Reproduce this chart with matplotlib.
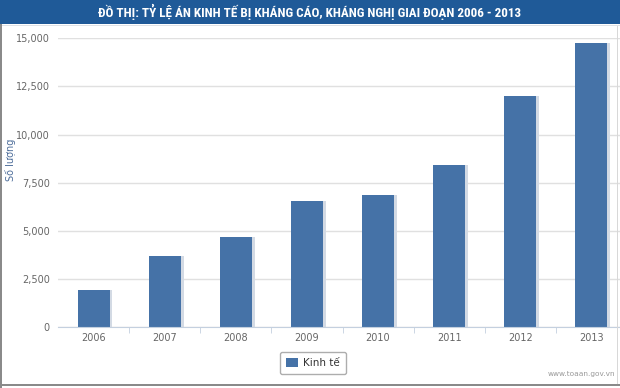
import matplotlib
matplotlib.use("Agg")
import matplotlib.pyplot as plt
from matplotlib.patches import Rectangle
from matplotlib.ticker import FuncFormatter, FixedLocator
from matplotlib import font_manager as fm

years = ["2006", "2007", "2008", "2009", "2010", "2011", "2012", "2013"]
values = [1900, 3700, 4700, 6550, 6850, 8400, 12000, 14750]
yticks = [0, 2500, 5000, 7500, 10000, 12500, 15000]
title = "ĐỒ THỊ: TỶ LỆ ÁN KINH TẾ BỊ KHÁNG CÁO, KHÁNG NGHỊ GIAI ĐOẠN 2006 - 2013"
series_name = "Kinh tế"
ylabel = "Số lượng"
credit = "www.toaan.gov.vn"

W, H = 620, 388


def pick_title_font():
    def wnum(w):
        if isinstance(w, int):
            return w
        return {"bold": 700, "semibold": 600, "demibold": 600, "heavy": 800,
                "extra bold": 800, "black": 900}.get(str(w).lower(), 400)
    cands = []
    for f in fm.fontManager.ttflist:
        st = str(f.stretch).lower()
        if ("condensed" in st or "narrow" in f.name.lower() or "condensed" in f.name.lower()) \
                and 600 <= wnum(f.weight) <= 800 and "mono" not in f.name.lower() \
                and f.style == "normal" and "extra" not in st and "ultra" not in st:
            cands.append(f)
    pref = ["Roboto", "Noto Sans", "Open Sans", "Liberation", "DejaVu"]
    for p in pref:
        for f in cands:
            if f.name.startswith(p) and "CJK" not in f.name and "Display" not in f.name:
                return fm.FontProperties(fname=f.fname)
    if cands:
        return fm.FontProperties(fname=cands[0].fname)
    return fm.FontProperties(family="Roboto", weight="bold")


def px_rect(x0, y0, w, h, color, z=10):
    fig.patches.append(Rectangle((x0 / W, 1 - (y0 + h) / H), w / W, h / H,
                                 transform=fig.transFigure, facecolor=color,
                                 edgecolor="none", zorder=z))


fig = plt.figure(figsize=(W / 100, H / 100), dpi=100)
fig.patch.set_facecolor("white")

# title banner and frame
px_rect(0, 0, W, 23.5, "#1f5a98", z=0)
px_rect(0, 24.5, W, 1.5, "#dfe2e6", z=0)
px_rect(0, 23.5, 2.2, H - 23.5, "#8a8a8a")
px_rect(0, 384, W, 2.2, "#8a8a8a")
px_rect(617, 26, 1.2, 358, "#d8d8d8")

fp = pick_title_font()
fp.set_size(12)
ttl = fig.text(0.5, 1 - 12 / H, title, ha="center", va="center", color="white",
               fontproperties=fp)
renderer = fig.canvas.get_renderer()
wpx = ttl.get_window_extent(renderer).width
fp2 = fp.copy()
fp2.set_size(min(12 * 425 / wpx, 14))
ttl.set_fontproperties(fp2)

ax = fig.add_axes([58 / W, 61 / H, (627 - 58) / W, (327 - 38.3) / H])
x = list(range(len(years)))
ax.bar([i + 0.04 for i in x], values, width=0.45, color="#d3dae4", zorder=2)
ax.bar(x, values, width=0.45, color="#4572a7", zorder=3)

ax.set_xlim(-0.5, len(years) - 0.5)
ax.set_ylim(0, 15000)
ax.yaxis.set_major_locator(FixedLocator(yticks))
ax.yaxis.set_major_formatter(FuncFormatter(lambda v, p: f"{int(v):,}"))
ax.grid(axis="y", color="#e0e0e0", linewidth=1, zorder=0)
ax.set_axisbelow(True)
for s in ["top", "right", "left"]:
    ax.spines[s].set_visible(False)
ax.spines["bottom"].set_color("#c4d0df")
ax.spines["bottom"].set_zorder(4)
ax.set_xticks(x)
ax.set_xticklabels(years)
ax.set_xticks([i + 0.5 for i in x[:-1]], minor=True)
ax.tick_params(axis="x", which="major", length=0, pad=4, labelsize=7, labelcolor="#666666")
ax.tick_params(axis="x", which="minor", length=4, color="#c4d0df")
ax.tick_params(axis="y", length=0, pad=6, labelsize=7, labelcolor="#666666")
ax.set_ylabel(ylabel, fontsize=7, color="#4d6d9a")
ax.yaxis.set_label_coords(-(58 - 16) / (627 - 58), (327 - 160) / (327 - 38.3))

leg = fig.legend([Rectangle((0, 0), 1, 1, facecolor="#4572a7")], [series_name],
                 loc="center", bbox_to_anchor=(313 / W, 1 - 363 / H), fontsize=7.5,
                 frameon=True, fancybox=True, edgecolor="#999999", handlelength=1.2,
                 handleheight=1.0, handletextpad=0.5, borderpad=0.6)
for t in leg.get_texts():
    t.set_color("#333333")

fig.text(615 / W, 1 - 374 / H, credit, ha="right", va="center", fontsize=5.3, color="#999999")

fig.savefig("out.png", dpi=100)
